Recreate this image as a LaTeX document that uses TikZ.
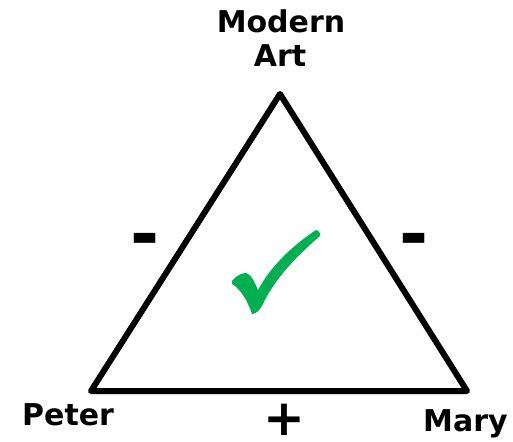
\documentclass[tikz,border=0pt]{standalone}
\usepackage{fontspec}
\setmainfont{DejaVu Sans}
\definecolor{checkgreen}{HTML}{00B050}
\begin{document}
\begin{tikzpicture}[x=1pt,y=-1pt,
  lbl/.style={inner sep=0pt,font=\bfseries\fontsize{30}{34}\selectfont},
  sign/.style={inner sep=0pt,anchor=north},
  edge/.style={line width=6pt,line join=round}]
\useasboundingbox (0,0) rectangle (513,441);
\coordinate (apex) at (280,94);
\coordinate (bl) at (91,391);
\coordinate (br) at (467,391);
\draw[edge] (apex) -- (bl) -- (br) -- cycle;
\node[lbl,anchor=base] (modern) at (281,33) {Modern};
\node[lbl,anchor=base] (art) at (280,67) {Art};
\node[lbl,anchor=base west] (peter) at (22,425) {Peter};
\node[lbl,anchor=base west] (mary) at (423,431) {Mary};
\node[sign,font=\bfseries\fontsize{70}{70}\selectfont] (minusl) at (145,233) {-};
\node[sign,font=\bfseries\fontsize{70}{70}\selectfont] (minusr) at (414,233) {-};
\node[sign,font=\bfseries\fontsize{50}{50}\selectfont] (plus) at (284.5,404) {+};
\fill[checkgreen] (232,281) .. controls (237,275) and (242,273) .. (246,273)
  .. controls (251,274) and (255,283) .. (258,290)
  .. controls (272,264) and (295,244) .. (316,230)
  .. controls (318,230) and (321,233) .. (320,236)
  .. controls (298,255) and (275,278) .. (263,304)
  .. controls (260,310) and (256,314) .. (252,314)
  .. controls (248,302) and (241,289) .. (232,284) -- cycle;
\end{tikzpicture}
\end{document}
